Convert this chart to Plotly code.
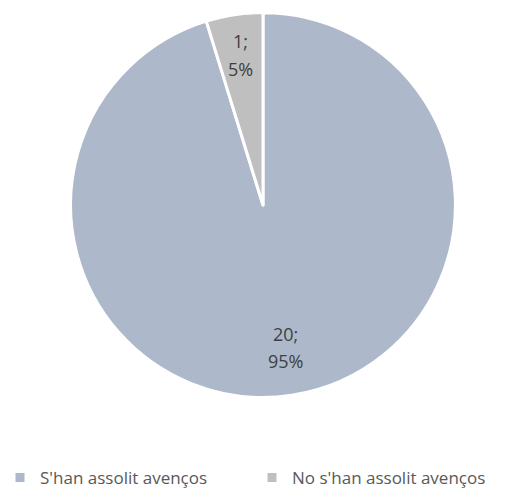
import math
import plotly.graph_objects as go

labels = ["S'han assolit avenços", "No s'han assolit avenços"]
values = [20, 1]
percents = ["95%", "5%"]
colors = ["#ADB9CA", "#BFBFBF"]

W, H = 530, 496
cx, cy, R = 263, 211, 198   # pixel layout of the pie domain (positioning only)
lcx, lcy, lr = 263, 207, 152  # data-label placement geometry
FONT = "Open Sans, Calibri, sans-serif"

fig = go.Figure(go.Pie(
    labels=labels,
    values=values,
    sort=False,
    direction="clockwise",
    rotation=0,
    marker=dict(colors=colors, line=dict(color="white", width=3)),
    textinfo="none",
    domain=dict(x=[(cx - R) / W, (cx + R) / W], y=[1 - (cy + R) / H, 1 - (cy - R) / H]),
    hoverinfo="label+value+percent",
))

# data labels placed along each slice bisector (derived from the values)
total = sum(values)
start = 0.0
for v, p in zip(values, percents):
    frac = v / total
    mid = (start + frac / 2) * 2 * math.pi
    start += frac
    px = lcx + lr * math.sin(mid)
    py = lcy - lr * math.cos(mid)
    for txt, dy in ((f"{v};", -14), (p, 14)):
        fig.add_annotation(
            x=px / W, y=1 - (py + dy) / H, xref="paper", yref="paper",
            text=txt, showarrow=False,
            font=dict(family=FONT, size=18, color="#404040"),
            xanchor="center", yanchor="middle",
        )

fig.update_layout(
    width=W, height=H,
    margin=dict(l=0, r=0, t=0, b=0),
    paper_bgcolor="white",
    plot_bgcolor="white",
    showlegend=True,
    legend=dict(
        orientation="h",
        x=0, xanchor="left",
        y=1 - 492 / H, yanchor="middle",
        font=dict(family=FONT, size=17, color="#595959"),
        entrywidth=207,
        tracegroupgap=0,
    ),
)
fig.write_html("out.html", config={"displayModeBar": False},
               post_script="document.body.style.margin='0';")
